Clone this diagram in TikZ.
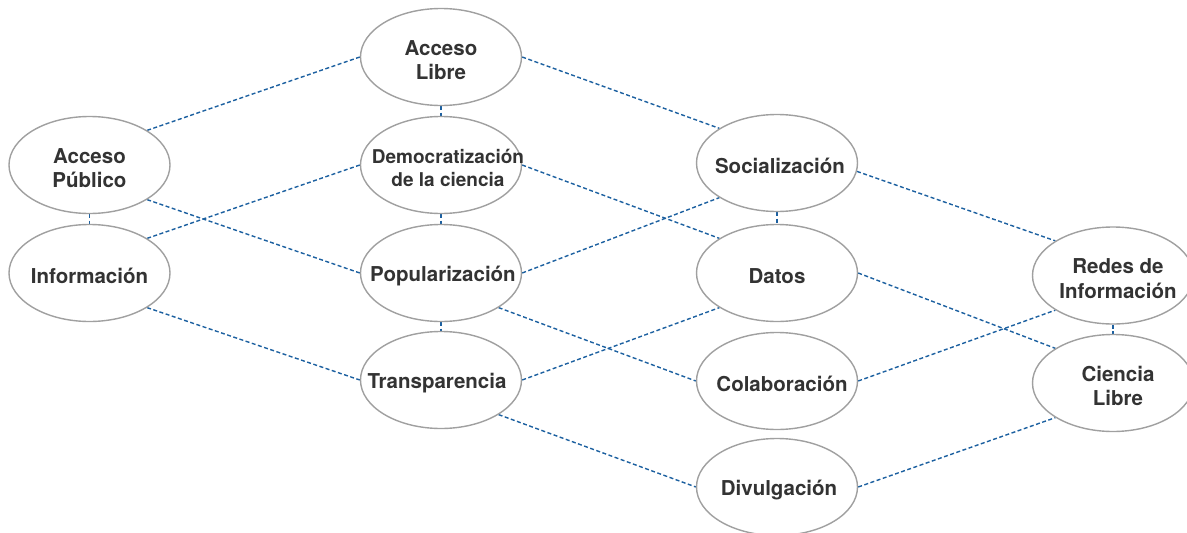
\documentclass[tikz,border=0pt]{standalone}
\usepackage{fontspec}
\setmainfont{TeX Gyre Heros}
\usetikzlibrary{shapes.geometric}
\definecolor{edgeblue}{RGB}{28,96,160}
\definecolor{ringgray}{RGB}{160,160,160}
\definecolor{inkgray}{RGB}{51,51,51}
\pgfdeclarelayer{bg}
\pgfsetlayers{bg,main}
\begin{document}
\begin{tikzpicture}[x=1pt,y=-1pt,
  ell/.style={ellipse, draw=ringgray, line width=1.4pt, fill=white,
    minimum width=161pt, minimum height=97pt, inner sep=0pt},
  txt/.style={text=inkgray, font=\fontsize{20.5}{24.5}\selectfont\bfseries,
    align=center, inner sep=0pt, yshift=-3pt},
  smalltxt/.style={font=\fontsize{19}{22.5}\selectfont\bfseries},
  link/.style={draw=edgeblue, line width=1.4pt, dash pattern=on 4pt off 2.5pt}]
\useasboundingbox (0,0) rectangle (1187,533);

% ellipses
\node[ell] (ap)  at (89.5,165) {};
\node[ell] (inf) at (89.5,273) {};
\node[ell] (al)  at (441,57) {};
\node[ell] (dem) at (441,165) {};
\node[ell] (pop) at (441,273) {};
\node[ell] (tra) at (441,380) {};
\node[ell] (soc) at (777,163) {};
\node[ell] (dat) at (777,273) {};
\node[ell] (col) at (777,381) {};
\node[ell] (div) at (777,487) {};
\node[ell] (red) at (1113,275.5) {};
\node[ell] (cie) at (1113,383) {};

% labels
\node[txt] (apt)  at (ap)  {Acceso\\Público};
\node[txt] (inft) at (inf) {Información};
\node[txt] (alt)  at (al)  {Acceso\\Libre};
\node[txt,smalltxt] (demt) at ([xshift=7pt]dem.center) {Democratización\\de la ciencia};
\node[txt] (popt) at ([xshift=2pt]pop.center) {Popularización};
\node[txt] (trat) at ([xshift=-4pt]tra.center) {Transparencia};
\node[txt] (soct) at ([xshift=3pt]soc.center) {Socialización};
\node[txt] (datt) at (dat) {Datos};
\node[txt] (colt) at ([xshift=5pt]col.center) {Colaboración};
\node[txt] (divt) at ([xshift=2pt]div.center) {Divulgación};
\node[txt] (redt) at ([xshift=5pt]red.center) {Redes de\\Información};
\node[txt] (ciet) at ([xshift=5pt]cie.center) {Ciencia\\Libre};

% connectors
\begin{pgfonlayer}{bg}
\draw[link] (ap.31) -- (al.west);
\draw[link] (ap.-31) -- (pop.west);
\draw[link] (ap.south) -- (inf.north);
\draw[link] (inf.31) -- (dem.west);
\draw[link] (inf.-31) -- (tra.west);
\draw[link] (al.south) -- (dem.north);
\draw[link] (dem.south) -- (pop.north);
\draw[link] (pop.south) -- (tra.north);
\draw[link] (al.east) -- (soc.149);
\draw[link] (dem.east) -- (dat.149);
\draw[link] (pop.east) -- (soc.211);
\draw[link] (pop.-31) -- (col.west);
\draw[link] (tra.east) -- (dat.211);
\draw[link] (tra.-31) -- (div.west);
\draw[link] (soc.south) -- (dat.north);
\draw[link] (soc.-6) -- (red.149);
\draw[link] (dat.east) -- (cie.149);
\draw[link] (col.east) -- (red.211);
\draw[link] (div.east) -- (cie.211);
\draw[link] (red.south) -- (cie.north);
\end{pgfonlayer}
\end{tikzpicture}
\end{document}
